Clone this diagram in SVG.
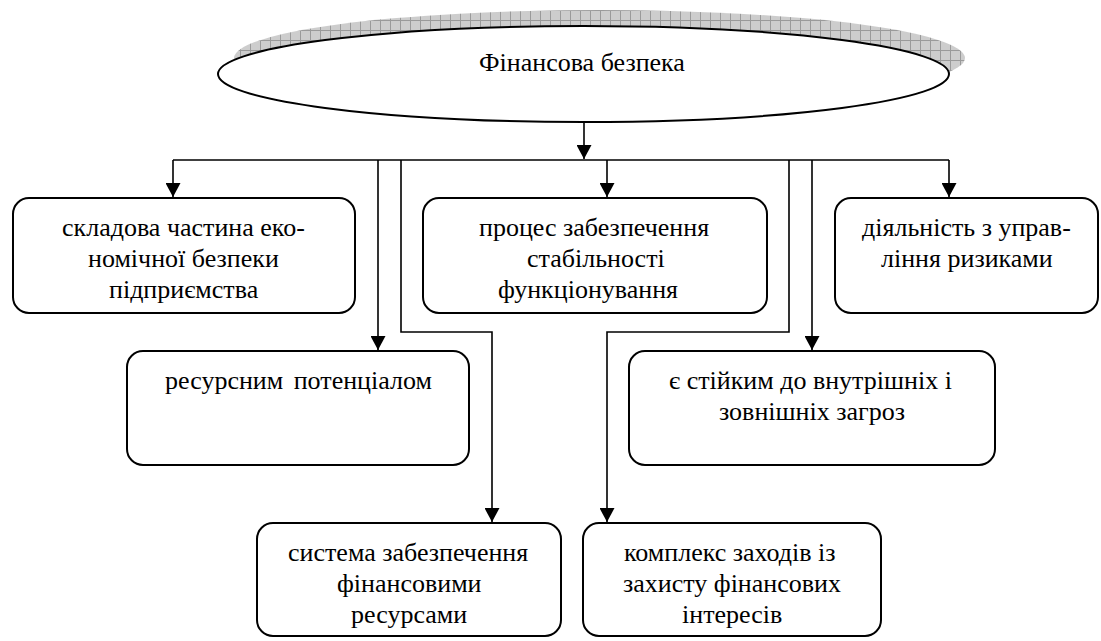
<svg xmlns="http://www.w3.org/2000/svg" width="1101" height="641" viewBox="0 0 1101 641">
<defs>
<pattern id="hatch" width="10" height="10" patternUnits="userSpaceOnUse">
<rect width="10" height="10" fill="#cdcdcd"/>
<path d="M0 0.5H10M0.5 0V10" stroke="#9a9a9a" stroke-width="1"/>
</pattern>
<marker id="arr" viewBox="0 0 14 15" refX="14" refY="7.5" markerWidth="14" markerHeight="15" markerUnits="userSpaceOnUse" orient="auto">
<path d="M0 0L14 7.5L0 15z" fill="#000"/>
</marker>
</defs>
<rect width="1101" height="641" fill="#fff"/>
<g id="root">
<ellipse cx="599.5" cy="58" rx="365.5" ry="48" fill="url(#hatch)"/>
<ellipse cx="583.5" cy="74" rx="365.5" ry="48" fill="#fff" stroke="#000" stroke-width="2"/>
<text x="479" y="71" font-family="Liberation Serif" font-size="26">Фінансова безпека</text>
</g>
<g id="connectors" fill="none" stroke="#000" stroke-width="1.6">
<path d="M584 122V159" marker-end="url(#arr)"/>
<path d="M173 160H949"/>
<path d="M173 160V197" marker-end="url(#arr)"/>
<path d="M607 160V197" marker-end="url(#arr)"/>
<path d="M949 160V197" marker-end="url(#arr)"/>
<path d="M378 160V350" marker-end="url(#arr)"/>
<path d="M812 160V350" marker-end="url(#arr)"/>
<path d="M401 160V332H492V522" marker-end="url(#arr)"/>
<path d="M789 160V332H607V522" marker-end="url(#arr)"/>
</g>
<g id="n1">
<rect x="13" y="198" width="342" height="115" rx="16" fill="#fff" stroke="#000" stroke-width="2"/>
<text x="62" y="236" font-family="Liberation Serif" font-size="26">складова частина еко-</text>
<text x="88" y="267" font-family="Liberation Serif" font-size="26">номічної безпеки</text>
<text x="109" y="298" font-family="Liberation Serif" font-size="26">підприємства</text>
</g>
<g id="n2">
<rect x="423" y="198" width="344" height="115" rx="16" fill="#fff" stroke="#000" stroke-width="2"/>
<text x="479" y="236" font-family="Liberation Serif" font-size="26">процес забезпечення</text>
<text x="527" y="267" font-family="Liberation Serif" font-size="26">стабільності</text>
<text x="498" y="298" font-family="Liberation Serif" font-size="26">функціонування</text>
</g>
<g id="n3">
<rect x="835" y="198" width="263" height="115" rx="16" fill="#fff" stroke="#000" stroke-width="2"/>
<text x="862" y="236" font-family="Liberation Serif" font-size="26">діяльність з управ-</text>
<text x="881" y="267" font-family="Liberation Serif" font-size="26">ління ризиками</text>
</g>
<g id="n4">
<rect x="127" y="351" width="342" height="114" rx="16" fill="#fff" stroke="#000" stroke-width="2"/>
<text x="165" y="389" font-family="Liberation Serif" font-size="26" word-spacing="4">ресурсним потенціалом</text>
</g>
<g id="n5">
<rect x="629" y="351" width="366" height="114" rx="16" fill="#fff" stroke="#000" stroke-width="2"/>
<text x="669" y="389" font-family="Liberation Serif" font-size="26">є стійким до внутрішніх і</text>
<text x="719" y="420" font-family="Liberation Serif" font-size="26">зовнішніх загроз</text>
</g>
<g id="n6">
<rect x="257" y="523" width="304" height="113" rx="16" fill="#fff" stroke="#000" stroke-width="2"/>
<text x="288" y="561" font-family="Liberation Serif" font-size="26">система забезпечення</text>
<text x="337" y="592" font-family="Liberation Serif" font-size="26">фінансовими</text>
<text x="351" y="623" font-family="Liberation Serif" font-size="26">ресурсами</text>
</g>
<g id="n7">
<rect x="583" y="523" width="298" height="113" rx="16" fill="#fff" stroke="#000" stroke-width="2"/>
<text x="624" y="561" font-family="Liberation Serif" font-size="26">комплекс заходів із</text>
<text x="623" y="592" font-family="Liberation Serif" font-size="26">захисту фінансових</text>
<text x="682" y="623" font-family="Liberation Serif" font-size="26">інтересів</text>
</g>
</svg>
